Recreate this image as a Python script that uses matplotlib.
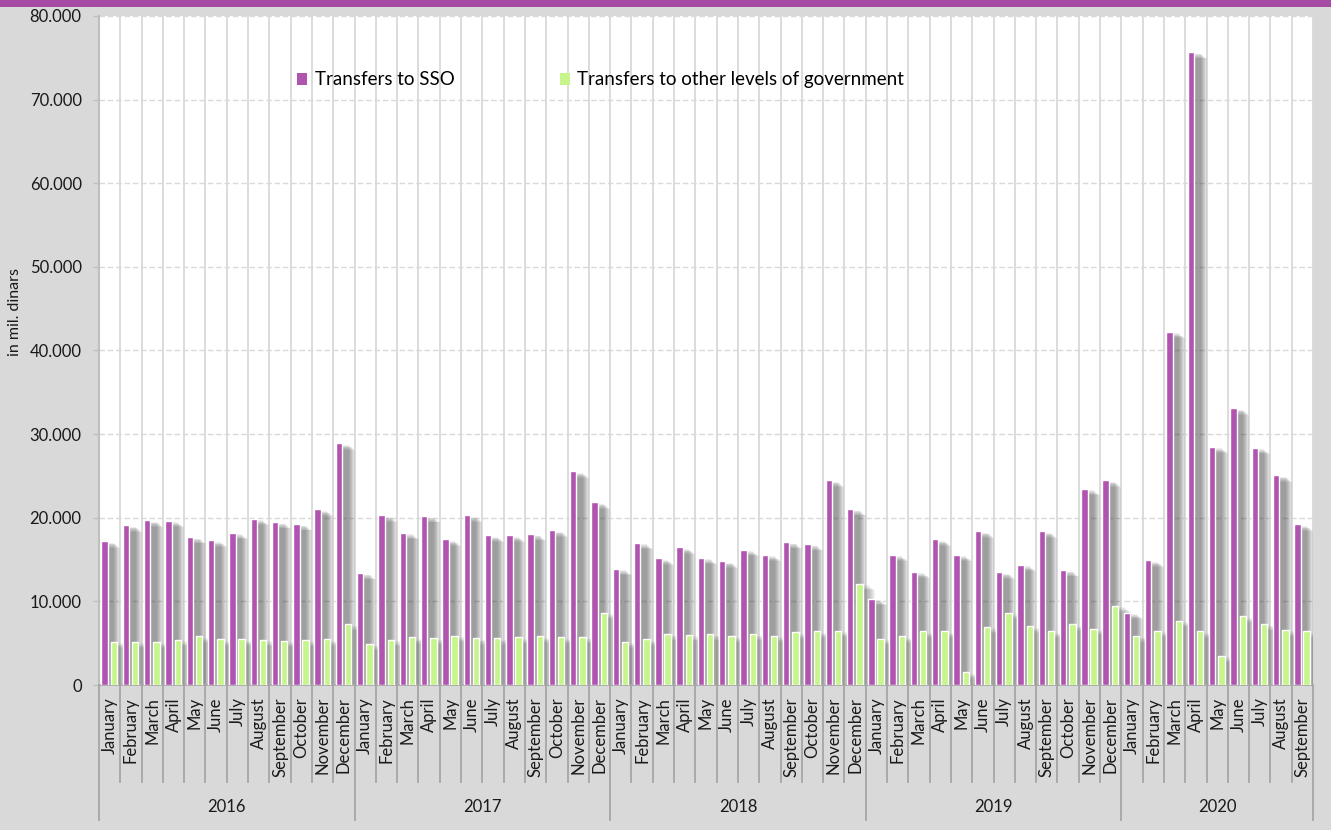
import matplotlib
matplotlib.use("Agg")
import matplotlib.pyplot as plt
from matplotlib.patches import Patch, Rectangle
from matplotlib.transforms import blended_transform_factory
from matplotlib.ticker import FuncFormatter, MultipleLocator
import numpy as np

plt.rcParams['font.family'] = ['Lato', 'DejaVu Sans']

# ---- data (mil. dinars) ----
years = ["2016", "2017", "2018", "2019", "2020"]
months_per_year = [12, 12, 12, 12, 9]
month_names = ["January", "February", "March", "April", "May", "June", "July",
               "August", "September", "October", "November", "December"]

transfers_sso = [
    17200, 19100, 19700, 19650, 17700, 17300, 18200, 19900, 19500, 19250, 21000, 28900,
    13400, 20300, 18200, 20200, 17400, 20300, 17900, 17900, 18050, 18500, 25550, 21850,
    13900, 17000, 15150, 16450, 15200, 14800, 16200, 15600, 17100, 16850, 24500, 21050,
    10300, 15600, 13550, 17400, 15600, 18400, 13500, 14400, 18400, 13750, 23450, 24500,
    8650, 14900, 42250, 75700, 28500, 33100, 28400, 25100, 19200,
]
transfers_other = [
    5200, 5200, 5200, 5400, 5800, 5450, 5450, 5400, 5300, 5400, 5450, 7300,
    4900, 5400, 5700, 5600, 5900, 5600, 5600, 5700, 5800, 5700, 5750, 8650,
    5200, 5450, 6100, 6000, 6100, 5850, 6100, 5900, 6300, 6400, 6500, 12100,
    5550, 5800, 6400, 6400, 1500, 6950, 8650, 7000, 6400, 7250, 6750, 9500,
    5850, 6500, 7700, 6400, 3500, 8200, 7300, 6600, 6400,
]

month_labels = []
for n in months_per_year:
    month_labels += month_names[:n]

# ---- styling ----
BG = "#d9d9d9"
PURPLE = "#b054b0"
GREEN = "#c6f58c"
GRID = "#d9d9d9"
AXIS = "#a6a6a6"

W, H = 1331, 830
fig = plt.figure(figsize=(W / 100, H / 100), dpi=100, facecolor=BG)
# purple band across the top
fig.patches.append(Rectangle((0, 1 - 7 / H), 1, 7 / H, transform=fig.transFigure,
                             facecolor="#a54ba5", edgecolor="none", zorder=0))

left, right, top, bottom = 99, 1313, 16, 685
ax = fig.add_axes([left / W, (H - bottom) / H, (right - left) / W, (bottom - top) / H])
ax.set_facecolor("white")

n = len(transfers_sso)
x = np.arange(n)
ax.set_xlim(0, n)
ax.set_ylim(0, 80000)

px_x = n / (right - left)          # one pixel in x data units
px_y = 80000 / (bottom - top)      # one pixel in y data units

bw = 6.4 * px_x
pos_sso = x + 0.265
pos_oth = x + 0.70

# soft drop shadows behind the bars
def draw_shadow(pos, vals, alpha_step, layers=7):
    vals = np.asarray(vals, dtype=float)
    for k in range(layers):
        ax.bar(pos + 6.5 * px_x, vals - 4 * px_y - (k - 3) * px_y * 0.8,
               width=bw + 2 * k * px_x, color="#404040", alpha=alpha_step,
               linewidth=0, zorder=1.5)

draw_shadow(pos_sso, transfers_sso, 0.095)
draw_shadow(pos_oth, transfers_other, 0.06)

ax.bar(pos_sso, transfers_sso, width=bw, color=PURPLE, edgecolor="white",
       linewidth=1.0, zorder=3)
ax.bar(pos_oth, transfers_other, width=bw, color=GREEN, edgecolor="white",
       linewidth=1.0, zorder=3)

# grid
ax.set_axisbelow(True)
ax.yaxis.set_major_locator(MultipleLocator(10000))
ax.yaxis.grid(True, color=GRID, linestyle=(0, (4, 2)), linewidth=1.0)
for b in range(1, n + 1):
    ax.axvline(b, color=GRID, linewidth=1.3, zorder=0.5)

for s in ["top", "right"]:
    ax.spines[s].set_visible(False)
ax.spines["left"].set_color("#bfbfbf")
ax.spines["left"].set_linewidth(1.5)
ax.spines["bottom"].set_color(AXIS)
ax.spines["bottom"].set_linewidth(1.2)

ax.yaxis.set_major_formatter(FuncFormatter(lambda v, p: f"{int(v):,}".replace(",", ".")))
ax.tick_params(axis="y", length=4.5, width=1, color="#bfbfbf", pad=8,
               labelsize=12, labelcolor="#1a1a1a")
ax.set_xticks([])
ax.set_ylabel("in mil. dinars", fontsize=11.5, color="#1a1a1a")
ax.yaxis.set_label_coords(-0.0635, 0.558)

# category axis: months, then years
ax_h = bottom - top
def fy(py):
    return (bottom - py) / ax_h

tr = blended_transform_factory(ax.transData, ax.transAxes)
for i, lab in enumerate(month_labels):
    ax.text(i + 0.5, fy(697), lab, rotation=90, ha="center", va="top",
            fontsize=12, color="#1a1a1a", transform=tr, clip_on=False)

year_bounds = np.concatenate([[0], np.cumsum(months_per_year)])
for b in range(n + 1):
    end = fy(820) if b in year_bounds else fy(782)
    ax.plot([b, b], [0, end], color=AXIS, linewidth=1.3, transform=tr,
            clip_on=False, zorder=4)
for k, yr in enumerate(years):
    mid = (year_bounds[k] + year_bounds[k + 1]) / 2
    ax.text(mid, fy(807), yr, ha="center", va="center", fontsize=12,
            color="#1a1a1a", transform=tr, clip_on=False)

handles = [Patch(facecolor=PURPLE, edgecolor="none", label="Transfers to SSO"),
           Patch(facecolor=GREEN, edgecolor="none", label="Transfers to other levels of government")]
ax.legend(handles=handles, loc="center left", bbox_to_anchor=((297 - left) / (right - left), fy(80)),
          ncol=2, frameon=False, fontsize=13.5, handlelength=0.55, handleheight=0.55,
          handletextpad=0.4, columnspacing=5.6, borderpad=0, borderaxespad=0)

fig.savefig("out.png", dpi=100, facecolor=BG)
